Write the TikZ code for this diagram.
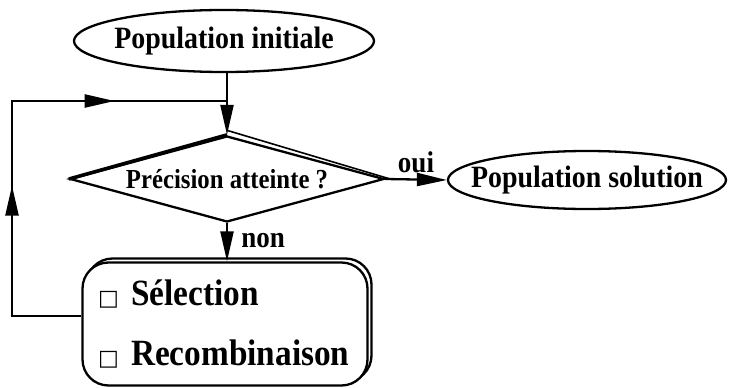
\documentclass[tikz,border=0pt]{standalone}
\usepackage{fontspec}
\setmainfont{Liberation Serif}[FakeStretch=0.9]
\newfontfamily\symf{DejaVu Sans}
\usetikzlibrary{shapes.geometric,arrows.meta,calc,shadows,decorations.markings}
\begin{document}
\begin{tikzpicture}[x=1pt,y=-1pt,line width=2.3pt,
  tipa/.style={-{Triangle[length=30pt,width=13pt]}},
  ell/.style={ellipse,draw,inner sep=0pt},
  bigtxt/.style={font=\bfseries\fontsize{31}{34}\selectfont},
  midtxt/.style={font=\bfseries\fontsize{27.5}{30}\selectfont},
  lbl/.style={font=\bfseries\fontsize{30}{32}\selectfont},
  boxtxt/.style={font=\bfseries\fontsize{37}{60}\selectfont}]
\useasboundingbox (0,0) rectangle (731,388);
\node[ell,minimum width=300pt,minimum height=62pt,label={[bigtxt]center:Population initiale}] (init) at (224,41) {};
\node[diamond,draw,aspect=3.66,minimum width=314pt,minimum height=86pt,inner sep=0pt,
  label={[midtxt]center:Précision atteinte ?}] (test) at (227,179) {};
\draw[line width=1.6pt] ([yshift=4.5pt]test.north) -- ([xshift=5pt]test.east);
\draw[line width=3.5pt] (test.west) -- (test.north);
\node[ell,minimum width=278pt,minimum height=58pt,label={[bigtxt]center:Population solution}] (sol) at (587,180) {};
\node[draw,fill=white,rounded corners=26pt,minimum width=285pt,minimum height=123pt,
  copy shadow={shadow xshift=4pt,shadow yshift=4pt},
  boxtxt,align=left,text width=254pt,inner sep=0pt] (box) at (225,324)
  {{\symf\fontsize{22}{22}\selectfont □} Sélection\\{\symf\fontsize{22}{22}\selectfont □} Recombinaison};
\coordinate (c1) at (12,101);
\draw[tipa] (test.north |- init.south) -- (test.north);
\draw[tipa] (test.east) -- node[lbl,above=2pt] {oui} (sol.west);
\draw[tipa] (test.south) -- node[lbl,right=10pt,pos=0.45] {non} (test.south |- box.north);
\draw[postaction={decorate},decoration={markings,
   mark=at position 0.40 with {\arrow{Triangle[length=30pt,width=13pt]}},
   mark=at position 0.775 with {\arrow{Triangle[length=30pt,width=13pt]}}}]
  ($(box.west)+(0,-8)$) -| (c1) -- (test.north |- c1);
\end{tikzpicture}
\end{document}
